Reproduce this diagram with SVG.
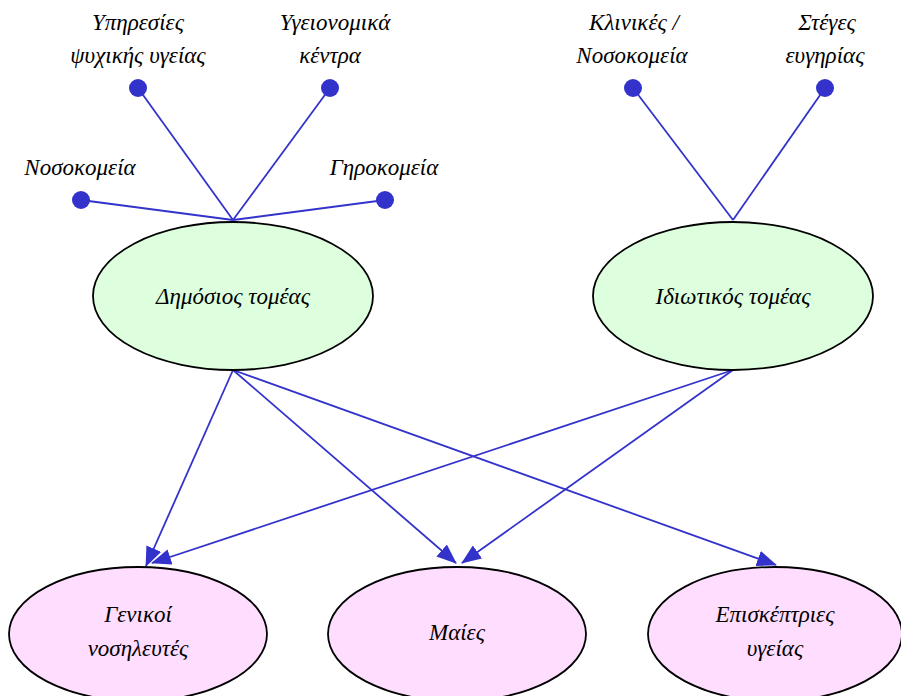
<svg xmlns="http://www.w3.org/2000/svg" width="901" height="696" viewBox="0 0 901 696">
<defs>
<style>
text{font-family:"Liberation Serif","DejaVu Serif",serif;font-style:italic;font-size:23px;fill:#000;text-anchor:middle}
.l{stroke:#3333cc;stroke-width:1.8;fill:none}
.d{fill:#3333cc}
.g{fill:#ddffdd;stroke:#000;stroke-width:1.8}
.p{fill:#ffddff;stroke:#000;stroke-width:1.8}
</style>
<marker id="ah" markerUnits="userSpaceOnUse" markerWidth="20" markerHeight="16" viewBox="0 0 20 16" refX="19" refY="8" orient="auto">
<path d="M0,0 L20,8 L0,16 z" fill="#3333cc"/>
</marker>
</defs>
<rect width="901" height="696" fill="#fff"/>
<g id="connectors">
<line class="l" x1="138" y1="88" x2="233" y2="220"/>
<line class="l" x1="330" y1="88" x2="233" y2="220"/>
<line class="l" x1="81" y1="200" x2="233" y2="220"/>
<line class="l" x1="385" y1="200" x2="233" y2="220"/>
<line class="l" x1="633" y1="88" x2="733" y2="220"/>
<line class="l" x1="825" y1="88" x2="733" y2="220"/>
<line class="l" x1="233" y1="370" x2="146" y2="566" marker-end="url(#ah)"/>
<line class="l" x1="233" y1="370" x2="456" y2="563" marker-end="url(#ah)"/>
<line class="l" x1="233" y1="370" x2="776" y2="565" marker-end="url(#ah)"/>
<line class="l" x1="733" y1="370" x2="152" y2="563" marker-end="url(#ah)"/>
<line class="l" x1="733" y1="370" x2="462" y2="563" marker-end="url(#ah)"/>
</g>
<g id="n-psy"><circle class="d" cx="138" cy="88" r="9"/><text x="138" y="30">Υπηρεσίες</text><text x="138" y="63">ψυχικής υγείας</text></g>
<g id="n-ygeio"><circle class="d" cx="330" cy="88" r="9"/><text x="335" y="30">Υγειονομικά</text><text x="330" y="63">κέντρα</text></g>
<g id="n-noso"><circle class="d" cx="81" cy="200" r="9"/><text x="80" y="175">Νοσοκομεία</text></g>
<g id="n-giro"><circle class="d" cx="385" cy="200" r="9"/><text x="384" y="175">Γηροκομεία</text></g>
<g id="n-klin"><circle class="d" cx="633" cy="88" r="9"/><text x="634" y="30">Κλινικές /</text><text x="632" y="63">Νοσοκομεία</text></g>
<g id="n-steg"><circle class="d" cx="825" cy="88" r="9"/><text x="827" y="30">Στέγες</text><text x="825" y="63">ευγηρίας</text></g>
<g id="n-dimosios"><ellipse class="g" cx="233" cy="296" rx="140" ry="74"/><text x="233" y="304">Δημόσιος τομέας</text></g>
<g id="n-idiotikos"><ellipse class="g" cx="733" cy="296" rx="140" ry="74"/><text x="733" y="304">Ιδιωτικός τομέας</text></g>
<g id="n-genikoi"><ellipse class="p" cx="138" cy="634" rx="129" ry="67"/><text x="138" y="622">Γενικοί</text><text x="138" y="656">νοσηλευτές</text></g>
<g id="n-maies"><ellipse class="p" cx="457" cy="634" rx="129" ry="67"/><text x="457" y="640">Μαίες</text></g>
<g id="n-episk"><ellipse class="p" cx="775" cy="634" rx="127" ry="67"/><text x="775" y="622">Επισκέπτριες</text><text x="775" y="656">υγείας</text></g>
</svg>
